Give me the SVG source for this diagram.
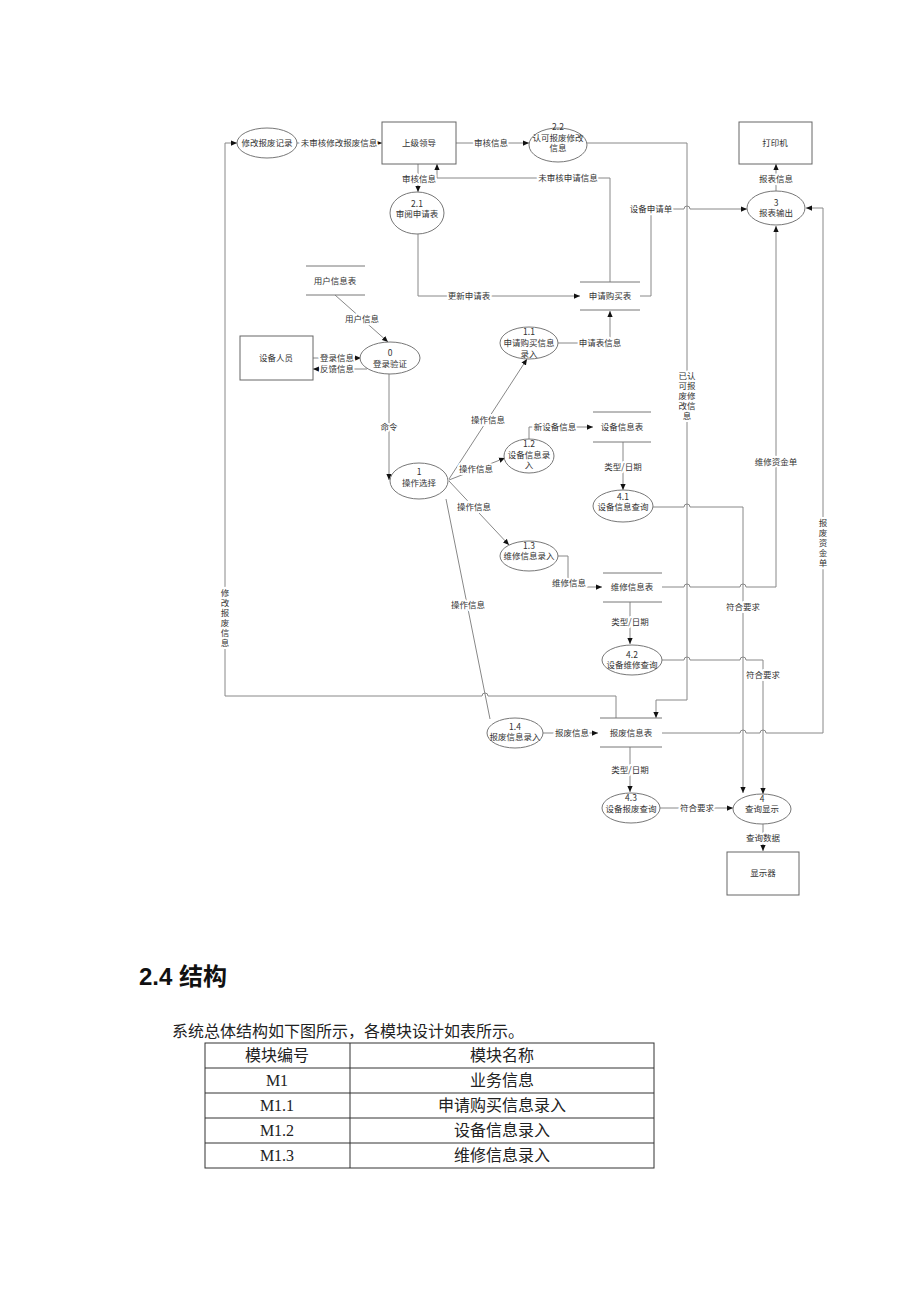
<svg xmlns="http://www.w3.org/2000/svg" width="920" height="1302" viewBox="0 0 920 1302">
<style>
.bx{fill:#fff;stroke:#666;stroke-width:1}
.el{fill:#fff;stroke:#777;stroke-width:1}
.ds{stroke:#777;stroke-width:1;fill:none}
.c{fill:none;stroke:#888;stroke-width:1}
.t{font-family:"Noto Sans CJK SC","Liberation Serif",serif;font-size:8.5px;fill:#333;text-anchor:middle}
.lb{font-family:"Noto Sans CJK SC","Liberation Serif",serif;font-size:8.5px;fill:#333;text-anchor:middle;stroke:#fff;stroke-width:4;stroke-linejoin:round;paint-order:stroke}
.h{font-family:"Liberation Sans","Noto Sans CJK SC",sans-serif;font-size:24px;font-weight:bold;fill:#111}
.p{font-family:"Liberation Serif","Noto Sans CJK SC",serif;font-size:16px;fill:#222}
.tc{font-family:"Liberation Serif","Noto Sans CJK SC",serif;font-size:16px;fill:#222;text-anchor:middle}
.tb{fill:none;stroke:#333;stroke-width:1}
</style>
<defs>
<marker id="ar" viewBox="0 0 8 8" refX="8" refY="4" markerWidth="6" markerHeight="6" orient="auto" markerUnits="userSpaceOnUse"><path d="M0,0.5 L8,4 L0,7.5 z" fill="#111"/></marker>
</defs>
<rect width="920" height="1302" fill="#fff"/>

<g id="connectors">
<path class="c" d="M297,143 H382" marker-end="url(#ar)"/>
<path class="c" d="M456,143 H529" marker-end="url(#ar)"/>
<path class="c" d="M587,143 H687 V700 H656 V718" marker-end="url(#ar)"/>
<path class="c" d="M418,164 V192" marker-end="url(#ar)"/>
<path class="c" d="M610,282 V178 H437 V164" marker-end="url(#ar)"/>
<path class="c" d="M418,234 V296 H580" marker-end="url(#ar)"/>
<path class="c" d="M640,296 H651 V209 H684 A3,3 0 0 1 690,209 H747" marker-end="url(#ar)"/>
<path class="c" d="M776,191 V164" marker-end="url(#ar)"/>
<path class="c" d="M335,295 L388,342" marker-end="url(#ar)"/>
<path class="c" d="M313,358 H361" marker-end="url(#ar)"/>
<path class="c" d="M367,369 H313" marker-end="url(#ar)"/>
<path class="c" d="M389,374 V480" marker-end="url(#ar)"/>
<path class="c" d="M558,343 H610 V311" marker-end="url(#ar)"/>
<path class="c" d="M449,479 L527,359" marker-end="url(#ar)"/>
<path class="c" d="M449,480 L505,458" marker-end="url(#ar)"/>
<path class="c" d="M529,439 V427 H593" marker-end="url(#ar)"/>
<path class="c" d="M623,442 V490" marker-end="url(#ar)"/>
<path class="c" d="M449,481 L509,545" marker-end="url(#ar)"/>
<path class="c" d="M558,556 H568 V587 H602" marker-end="url(#ar)"/>
<path class="c" d="M662,587 H684 A3,3 0 0 1 690,587 H740 A3,3 0 0 1 746,587 H776 V226" marker-end="url(#ar)"/>
<path class="c" d="M630,602 V644" marker-end="url(#ar)"/>
<path class="c" d="M653,507 H684 A3,3 0 0 1 690,507 H743 V793" marker-end="url(#ar)"/>
<path class="c" d="M662,660 H684 A3,3 0 0 1 690,660 H740 A3,3 0 0 1 746,660 H763 V794" marker-end="url(#ar)"/>
<path class="c" d="M446,499 L490,719"/>
<path class="c" d="M543,733 H598" marker-end="url(#ar)"/>
<path class="c" d="M616,718 V696 H488 A3,3 0 0 0 482,696 H225 V143 H237" marker-end="url(#ar)"/>
<path class="c" d="M662,733 H740 A3,3 0 0 1 746,733 H760 A3,3 0 0 1 766,733 H823 V208 H806" marker-end="url(#ar)"/>
<path class="c" d="M630,747 V792" marker-end="url(#ar)"/>
<path class="c" d="M660,808 H733" marker-end="url(#ar)"/>
<path class="c" d="M763,824 V851" marker-end="url(#ar)"/>

<text class="lb" x="339" y="146">未审核修改报废信息</text>
<text class="lb" x="491" y="146">审核信息</text>
<text class="lb" x="419" y="182">审核信息</text>
<text class="lb" x="568" y="181">未审核申请信息</text>
<text class="lb" x="469" y="299">更新申请表</text>
<text class="lb" x="651" y="212">设备申请单</text>
<text class="lb" x="776" y="182">报表信息</text>
<text class="lb" x="362" y="322">用户信息</text>
<text class="lb" x="337" y="361">登录信息</text>
<text class="lb" x="337" y="372">反馈信息</text>
<text class="lb" x="389" y="430">命令</text>
<text class="lb" x="600" y="346">申请表信息</text>
<text class="lb" x="488" y="423">操作信息</text>
<text class="lb" x="476" y="472">操作信息</text>
<text class="lb" x="555" y="430">新设备信息</text>
<text class="lb" x="623" y="470">类型/日期</text>
<text class="lb" x="474" y="510">操作信息</text>
<text class="lb" x="569" y="586">维修信息</text>
<text class="lb" x="776" y="465">维修资金单</text>
<text class="lb" x="630" y="625">类型/日期</text>
<text class="lb" x="743" y="610">符合要求</text>
<text class="lb" x="763" y="678">符合要求</text>
<text class="lb" x="468" y="608">操作信息</text>
<text class="lb" x="572" y="736">报废信息</text>
<text class="lb" x="630" y="773">类型/日期</text>
<text class="lb" x="697" y="811">符合要求</text>
<text class="lb" x="763" y="841">查询数据</text>
<text class="lb" x="687" y="379">已认</text>
<text class="lb" x="687" y="389">可报</text>
<text class="lb" x="687" y="399">废修</text>
<text class="lb" x="687" y="409">改信</text>
<text class="lb" x="687" y="419">息</text>
<text class="lb" x="225" y="596">修</text>
<text class="lb" x="225" y="606">改</text>
<text class="lb" x="225" y="616">报</text>
<text class="lb" x="225" y="626">废</text>
<text class="lb" x="225" y="636">信</text>
<text class="lb" x="225" y="646">息</text>
<text class="lb" x="823" y="526">报</text>
<text class="lb" x="823" y="536">废</text>
<text class="lb" x="823" y="546">资</text>
<text class="lb" x="823" y="556">金</text>
<text class="lb" x="823" y="566">单</text>
</g>

<g id="n-leader"><rect class="bx" x="382" y="122" width="74" height="42"/><text class="t" x="419" y="146">上级领导</text></g>
<g id="n-printer"><rect class="bx" x="739" y="122" width="73" height="42"/><text class="t" x="775" y="146">打印机</text></g>
<g id="n-staff"><rect class="bx" x="240" y="336" width="73" height="44"/><text class="t" x="276" y="361">设备人员</text></g>
<g id="n-display"><rect class="bx" x="727" y="852" width="72" height="43"/><text class="t" x="763" y="876">显示器</text></g>

<g id="p-modrec"><ellipse class="el" cx="267" cy="143" rx="30" ry="15"/><text class="t" x="267" y="146">修改报废记录</text></g>
<g id="p-2-2"><ellipse class="el" cx="558" cy="145" rx="29" ry="17"/><text class="t" x="558" y="130">2.2</text><text class="t" x="558" y="141">认可报废修改</text><text class="t" x="558" y="151">信息</text></g>
<g id="p-2-1"><ellipse class="el" cx="417" cy="213" rx="27" ry="21"/><text class="t" x="417" y="207">2.1</text><text class="t" x="417" y="217">审阅申请表</text></g>
<g id="p-3"><ellipse class="el" cx="776" cy="208" rx="29" ry="17"/><text class="t" x="776" y="206">3</text><text class="t" x="776" y="216">报表输出</text></g>
<g id="p-0"><ellipse class="el" cx="390" cy="358" rx="30" ry="16"/><text class="t" x="390" y="356">0</text><text class="t" x="390" y="367">登录验证</text></g>
<g id="p-1-1"><ellipse class="el" cx="529" cy="343" rx="29" ry="16"/><text class="t" x="529" y="335">1.1</text><text class="t" x="529" y="346">申请购买信息</text><text class="t" x="529" y="357">录入</text></g>
<g id="p-1"><ellipse class="el" cx="419" cy="481" rx="29" ry="18"/><text class="t" x="419" y="475">1</text><text class="t" x="419" y="486">操作选择</text></g>
<g id="p-1-2"><ellipse class="el" cx="529" cy="456" rx="25" ry="17"/><text class="t" x="529" y="447">1.2</text><text class="t" x="529" y="458">设备信息录</text><text class="t" x="529" y="468">入</text></g>
<g id="p-4-1"><ellipse class="el" cx="623" cy="506" rx="30" ry="16"/><text class="t" x="623" y="500">4.1</text><text class="t" x="623" y="510">设备信息查询</text></g>
<g id="p-1-3"><ellipse class="el" cx="529" cy="556" rx="29" ry="15"/><text class="t" x="529" y="549">1.3</text><text class="t" x="529" y="559">维修信息录入</text></g>
<g id="p-4-2"><ellipse class="el" cx="632" cy="660" rx="30" ry="15"/><text class="t" x="632" y="658">4.2</text><text class="t" x="632" y="668">设备维修查询</text></g>
<g id="p-1-4"><ellipse class="el" cx="515" cy="733" rx="28" ry="15"/><text class="t" x="515" y="730">1.4</text><text class="t" x="515" y="740">报废信息录入</text></g>
<g id="p-4-3"><ellipse class="el" cx="631" cy="808" rx="29" ry="15"/><text class="t" x="631" y="801">4.3</text><text class="t" x="631" y="812">设备报废查询</text></g>
<g id="p-4"><ellipse class="el" cx="762" cy="809" rx="29" ry="15"/><text class="t" x="762" y="802">4</text><text class="t" x="762" y="812">查询显示</text></g>

<g id="d-user"><path class="ds" d="M306,266 H365 M306,295 H365"/><text class="t" x="335" y="284">用户信息表</text></g>
<g id="d-apply"><path class="ds" d="M580,282 H640 M580,310 H640"/><text class="t" x="610" y="299">申请购买表</text></g>
<g id="d-equip"><path class="ds" d="M593,412 H651 M593,442 H651"/><text class="t" x="622" y="430">设备信息表</text></g>
<g id="d-repair"><path class="ds" d="M603,573 H662 M603,602 H662"/><text class="t" x="632" y="590">维修信息表</text></g>
<g id="d-scrap"><path class="ds" d="M600,718 H662 M600,747 H662"/><text class="t" x="631" y="736">报废信息表</text></g>

<g id="section">
<text class="h" x="139" y="985">2.4 结构</text>
<text class="p" x="172" y="1037">系统总体结构如下图所示，各模块设计如表所示。</text>
<rect class="tb" x="205" y="1043" width="449" height="125"/>
<path class="tb" d="M350,1043 V1168 M205,1068 H654 M205,1093 H654 M205,1118 H654 M205,1143 H654"/>
<text class="tc" x="277" y="1061">模块编号</text><text class="tc" x="502" y="1061">模块名称</text>
<text class="tc" x="277" y="1086">M1</text><text class="tc" x="502" y="1086">业务信息</text>
<text class="tc" x="277" y="1111">M1.1</text><text class="tc" x="502" y="1111">申请购买信息录入</text>
<text class="tc" x="277" y="1136">M1.2</text><text class="tc" x="502" y="1136">设备信息录入</text>
<text class="tc" x="277" y="1161">M1.3</text><text class="tc" x="502" y="1161">维修信息录入</text>
</g>
</svg>
